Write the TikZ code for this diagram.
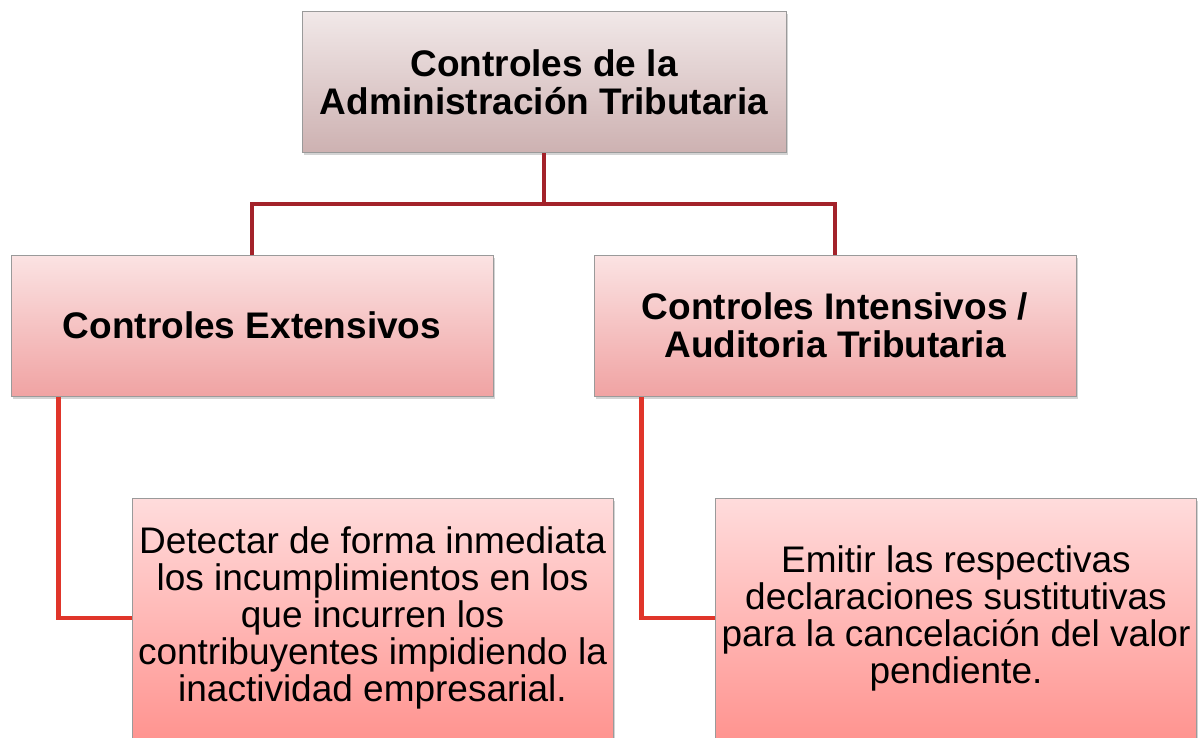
\documentclass[tikz,border=0pt]{standalone}
\usepackage{fontspec}
\setmainfont{Liberation Sans}
\usetikzlibrary{shadows}
\definecolor{topA}{HTML}{F1E8E8}
\definecolor{topB}{HTML}{CDB1B1}
\definecolor{midA}{HTML}{FBE3E3}
\definecolor{midB}{HTML}{F0A3A3}
\definecolor{lowA}{HTML}{FFDCDC}
\definecolor{lowB}{HTML}{FF9490}
\definecolor{darkline}{HTML}{A3222A}
\definecolor{redline}{HTML}{E0352A}
\definecolor{boxborder}{HTML}{9A9A9A}
\tikzset{
  basebox/.style={rectangle, draw=boxborder, line width=1pt, align=center, inner sep=0pt,
    drop shadow={shadow xshift=1.5pt, shadow yshift=-2.5pt, opacity=0.35}},
  topbox/.style={basebox, top color=topA, bottom color=topB, minimum width=484pt, minimum height=141pt,
    font=\fontsize{37}{38}\selectfont\bfseries},
  midbox/.style={basebox, top color=midA, bottom color=midB, minimum width=482pt, minimum height=141pt,
    font=\fontsize{37}{38}\selectfont\bfseries},
  lowbox/.style={basebox, top color=lowA, bottom color=lowB, minimum width=481pt, minimum height=240pt,
    font=\fontsize{37}{37}\selectfont},
  busline/.style={draw=darkline, line width=4.5pt},
  subline/.style={draw=redline, line width=4.5pt, line join=miter},
}
\begin{document}
\begin{tikzpicture}[x=1pt,y=-1pt]
\useasboundingbox (0,0) rectangle (1201,738);
\node[topbox] (top) at (544,82.5) {Controles de la\\Administración Tributaria};
\node[midbox] (ext) at (252,325.5) {Controles Extensivos};
\node[midbox] (int) at (835,325.5) {Controles Intensivos /\\Auditoria Tributaria};
\node[lowbox] (c1) at (372.5,618) {Detectar de forma inmediata\\los incumplimientos en los\\que incurren los\\contribuyentes impidiendo la\\inactividad empresarial.};
\node[lowbox] (c2) at (956,618) {Emitir las respectivas\\declaraciones sustitutivas\\para la cancelación del valor\\pendiente.};
\coordinate (bus) at (544,204);
\draw[busline] (top.south) -- (bus);
\draw[busline] (ext.north) -- (ext.north |- bus) -- (int.north |- bus) -- (int.north);
\draw[subline] ([xshift=48pt]ext.south west) |- (c1.west);
\draw[subline] ([xshift=48pt]int.south west) |- (c2.west);
\end{tikzpicture}
\end{document}
